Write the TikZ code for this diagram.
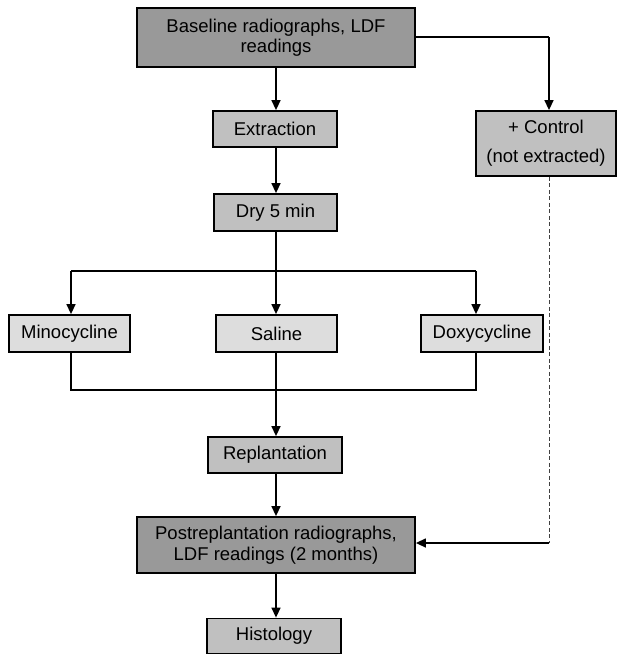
\documentclass[tikz,border=0pt]{standalone}
\usepackage{fontspec}
\setmainfont{Liberation Sans}
\usetikzlibrary{arrows.meta}
\definecolor{darkbox}{HTML}{999999}
\definecolor{midbox}{HTML}{C0C0C0}
\definecolor{lightbox}{HTML}{DDDDDD}
\begin{document}
\begin{tikzpicture}[x=1pt,y=-1pt,
  box/.style={draw=black,line width=1.8pt,rectangle,inner sep=0pt,align=center,
    font=\fontsize{18.5}{20.5}\selectfont},
  dark/.style={box,fill=darkbox},
  mid/.style={box,fill=midbox},
  light/.style={box,fill=lightbox},
  conn/.style={line width=1.4pt},
  arr/.style={conn,-{Triangle[length=10pt,width=9pt]}},
  dashline/.style={line width=0.9pt,draw=black!75,dash pattern=on 4pt off 2.5pt}]
\useasboundingbox (0,0) rectangle (617,654);
\node[dark,minimum width=278,minimum height=59] (base) at (276,37.5) {Baseline radiographs, LDF\\readings};
\node[mid,minimum width=124,minimum height=36] (extr) at (275,129) {Extraction};
\node[mid,minimum width=140,minimum height=65,font=\fontsize{18.5}{29}\selectfont] (ctrl) at (546,143.5) {+ Control\\(not extracted)};
\node[mid,minimum width=123,minimum height=37] (dry) at (275.5,212.5) {Dry 5 min};
\node[light,minimum width=121,minimum height=37] (mino) at (69.5,333.5) {Minocycline};
\node[light,minimum width=121,minimum height=37] (sal) at (276.5,333.5) {Saline};
\node[light,minimum width=122,minimum height=37] (doxy) at (482,333.5) {Doxycycline};
\node[mid,minimum width=134,minimum height=36] (repl) at (275,455) {Replantation};
\node[dark,minimum width=278,minimum height=56] (post) at (276,545) {Postreplantation radiographs,\\LDF readings (2 months)};
\node[mid,minimum width=134,minimum height=35] (hist) at (274,636) {Histology};
\coordinate (cx) at (276,0);
\coordinate (bx) at (549,37);
\coordinate (split) at (276,271);
\coordinate (ls) at (71,271);
\coordinate (rs) at (476,271);
\coordinate (lm) at (71,390);
\coordinate (rm) at (476,390);
\coordinate (dc) at (549,543);
\draw[arr] (cx |- base.south) -- (cx |- extr.north);
\draw[conn] (base.east |- bx) -- (bx);
\draw[arr] (bx) -- (bx |- ctrl.north);
\draw[arr] (cx |- extr.south) -- (cx |- dry.north);
\draw[arr] (cx |- dry.south) -- (cx |- sal.north);
\draw[conn] (ls) -- (rs);
\draw[arr] (ls) -- (ls |- mino.north);
\draw[arr] (rs) -- (rs |- doxy.north);
\draw[conn] (lm |- mino.south) -- (lm) -- (rm) -- (rm |- doxy.south);
\draw[arr] (cx |- sal.south) -- (cx |- repl.north);
\draw[arr] (cx |- repl.south) -- (cx |- post.north);
\draw[arr] (cx |- post.south) -- (cx |- hist.north);
\draw[dashline] (bx |- ctrl.south) -- (dc);
\draw[arr] (dc) -- (post.east |- dc);
\end{tikzpicture}
\end{document}
